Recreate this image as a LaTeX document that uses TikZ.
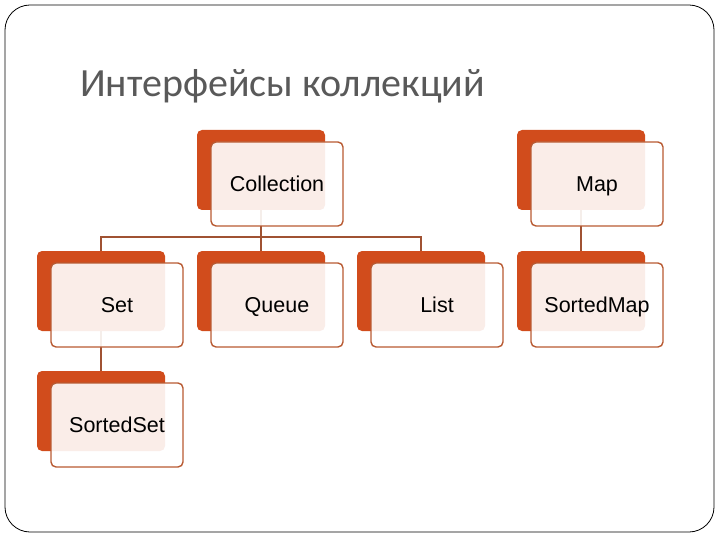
\documentclass[tikz,border=0pt]{standalone}
\usepackage{fontspec}
\usepackage{tikz}
\usetikzlibrary{calc, positioning}
\usepackage{xcolor}

\newfontfamily\titlefont{Carlito}
\newfontfamily\labelfont{Liberation Sans}
\definecolor{hardorange}{RGB}{209,76,28}
\definecolor{boxline}{RGB}{184,90,50}
\definecolor{linkcol}{RGB}{160,82,50}
\definecolor{titlegray}{RGB}{89,89,89}

\tikzset{
    backbox/.style={rectangle, rounded corners=5pt, fill=hardorange,
        minimum width=128pt, minimum height=80pt, inner sep=0pt},
    frontbox/.style={rectangle, rounded corners=5pt, draw=boxline, line width=1.4pt,
        fill=white, fill opacity=0.9, text opacity=1, text=black,
        minimum width=132pt, minimum height=84pt, inner sep=0pt,
        text height=15.4pt, text depth=0pt,
        font=\labelfont\fontsize{21.5}{26}\selectfont},
    link/.style={draw=linkcol, line width=1.5pt}
}

\begin{document}
\begin{tikzpicture}[x=1pt, y=-1pt]
    \useasboundingbox (0,0) rectangle (720,540);
    % рамка слайда
    \draw[black, line width=0.8pt, rounded corners=25pt] (5,5) rectangle (714,532);

    % заголовок
    \node[anchor=base west, inner sep=0pt, text=titlegray,
          font=\titlefont\fontsize{40}{46}\selectfont] (title) at (80,97) {Интерфейсы коллекций};

    % задние блоки
    \node[backbox] (collB) at (261,170) {};
    \node[backbox] (mapB) at (581,170) {};
    \node[backbox] (setB) at (101,291) {};
    \node[backbox] (queueB) at (261,291) {};
    \node[backbox] (listB) at (421,291) {};
    \node[backbox] (smapB) at (581,291) {};
    \node[backbox] (ssetB) at (101,411) {};

    % связи
    \draw[link] (collB.south) -- ++(0,27) coordinate (bus) -| (setB.north);
    \draw[link] (bus) -- (queueB.north);
    \draw[link] (bus) -| (listB.north);
    \draw[link] (mapB.south) -- (smapB.north);
    \draw[link] (setB.south) -- (ssetB.north);

    % передние блоки с текстом
    \node[frontbox] (coll) at ($(collB)+(16,14)$) {Collection};
    \node[frontbox] (map) at ($(mapB)+(16,14)$) {Map};
    \node[frontbox] (set) at ($(setB)+(16,14)$) {Set};
    \node[frontbox] (queue) at ($(queueB)+(16,14)$) {Queue};
    \node[frontbox] (list) at ($(listB)+(16,14)$) {List};
    \node[frontbox] (smap) at ($(smapB)+(16,14)$) {SortedMap};
    \node[frontbox] (sset) at ($(ssetB)+(16,14)$) {SortedSet};
\end{tikzpicture}
\end{document}
